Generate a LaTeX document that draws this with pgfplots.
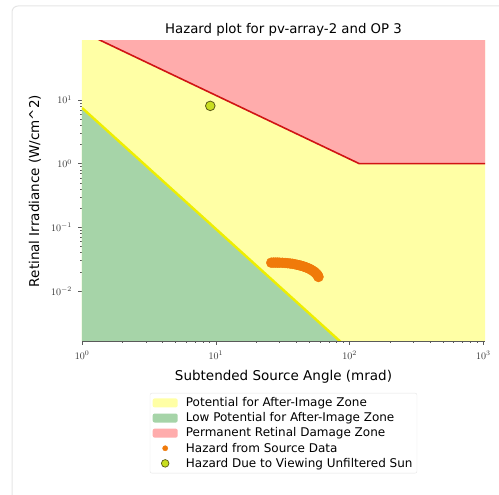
\documentclass[border=0pt]{standalone}
\usepackage{fontspec}
\setmainfont{DejaVu Sans}
\usepackage{pgfplots}
\pgfplotsset{compat=1.18}

\definecolor{zoneyellow}{RGB}{255,255,165}
\definecolor{zonegreen}{RGB}{166,212,168}
\definecolor{zonepink}{RGB}{255,172,172}
\definecolor{redline}{RGB}{208,20,20}
\definecolor{yelline}{RGB}{238,238,0}
\definecolor{hazorange}{RGB}{240,122,10}
\definecolor{sunfill}{RGB}{200,222,30}
\definecolor{sunedge}{RGB}{90,90,20}
\definecolor{tickgray}{RGB}{90,90,90}

\pgfplotsset{
  patch legend/.style={legend image code/.code={
    \fill[##1] (0pt,-4.5pt) rectangle (25pt,4.5pt); \path (31pt,0pt);}},
}

\begin{document}
\begin{tikzpicture}
\useasboundingbox (0,0) rectangle (499pt,495pt);
\draw[gray!20, line width=1pt, rounded corners=6pt] (12pt,-20pt) rectangle (530pt,489pt);
\begin{axis}[
    at={(82pt,154pt)}, anchor=south west,
    scale only axis, width=403pt, height=300pt,
    xmode=log, ymode=log,
    xmin=1, xmax=1030, ymin=0.00164, ymax=84,
    axis lines=left, axis line style={tickgray, -},
    tick align=outside, tick pos=left,
    major tick length=4pt, minor tick length=2pt,
    every tick/.style={tickgray, thin},
    tick label style={font=\fontsize{10}{12}\selectfont, text=black!80},
    xticklabel style={yshift=-2.5pt},
    yticklabel style={xshift=-2.5pt},
    xtick={1,10,100,1000}, ytick={0.01,0.1,1,10},
    every axis title shift=0pt,
    title={Hazard plot for pv-array-2 and OP 3},
    title style={font=\fontsize{13.3}{15}\selectfont, at={(0.5,1.037)}, anchor=center},
    xlabel={Subtended Source Angle (mrad)},
    ylabel={Retinal Irradiance (W/cm\^{}2)},
    label style={font=\fontsize{13.5}{15}\selectfont},
    xlabel style={at={(axis description cs:0.5,-0.12)}, anchor=center},
    ylabel style={at={(axis description cs:-0.117,0.5)}, anchor=center},
    legend style={at={(0.5,-0.173)}, anchor=north, draw=gray!20,
      font=\fontsize{12}{14}\selectfont, row sep=0.5pt,
      rounded corners=2pt, inner sep=2.5pt},
    legend cell align=left,
    clip=true,
]
% zone fills
\addplot[fill=zoneyellow, draw=none, patch legend]
  coordinates {(0.5,0.0001) (3000,0.0001) (3000,1000) (0.5,1000)} -- cycle;
\addlegendentry{Potential for After-Image Zone}
\addplot[fill=zonegreen, draw=none, patch legend]
  coordinates {(1,7.5) (100,0.00119) (100,0.0001) (1,0.0001)} -- cycle;
\addlegendentry{Low Potential for After-Image Zone}
\addplot[fill=zonepink, draw=none, patch legend]
  coordinates {(1,118) (118,1) (3000,1) (3000,1000) (1,1000)} -- cycle;
\addlegendentry{Permanent Retinal Damage Zone}
% threshold lines
\addplot[redline, line width=1.6pt, forget plot]
  coordinates {(1,118) (118,1) (3000,1)};
\addplot[yelline, line width=2.4pt, forget plot]
  coordinates {(1,7.5) (100,0.00119)};
% hazard from source data
\addplot[only marks, mark=*, mark size=5pt, hazorange,
  mark options={draw=none, fill=hazorange},
  legend image code/.code={\fill[hazorange] (12.5pt,0pt) circle (2.6pt); \path (0pt,0pt) (31pt,0pt);}]
  coordinates {
  (26,0.0278) (27,0.0279) (28,0.0279) (29,0.0279) (30,0.0278) (31.5,0.0277)
  (33,0.0275) (34.5,0.0273) (36,0.0270) (37.5,0.0267) (39,0.0263) (40.5,0.0258)
  (42,0.0254) (43.5,0.0249) (45,0.0244) (46.5,0.0238) (48,0.0232) (49.5,0.0226)
  (51,0.0219) (52.5,0.0211) (54,0.0203) (55.3,0.0195) (56.5,0.0187) (57.5,0.0179)
  (58.2,0.0172) (58.6,0.0166)};
\addlegendentry{Hazard from Source Data}
% unfiltered sun
\addplot[only marks, mark=*, mark size=4.8pt,
  mark options={draw=sunedge, fill=sunfill, line width=0.8pt},
  legend image code/.code={\draw[sunedge, fill=sunfill, line width=0.7pt] (12.5pt,0pt) circle (3.8pt); \path (0pt,0pt) (31pt,0pt);}]
  coordinates {(9.1,8.05)};
\addlegendentry{Hazard Due to Viewing Unfiltered Sun}
\end{axis}
\end{tikzpicture}
\end{document}
